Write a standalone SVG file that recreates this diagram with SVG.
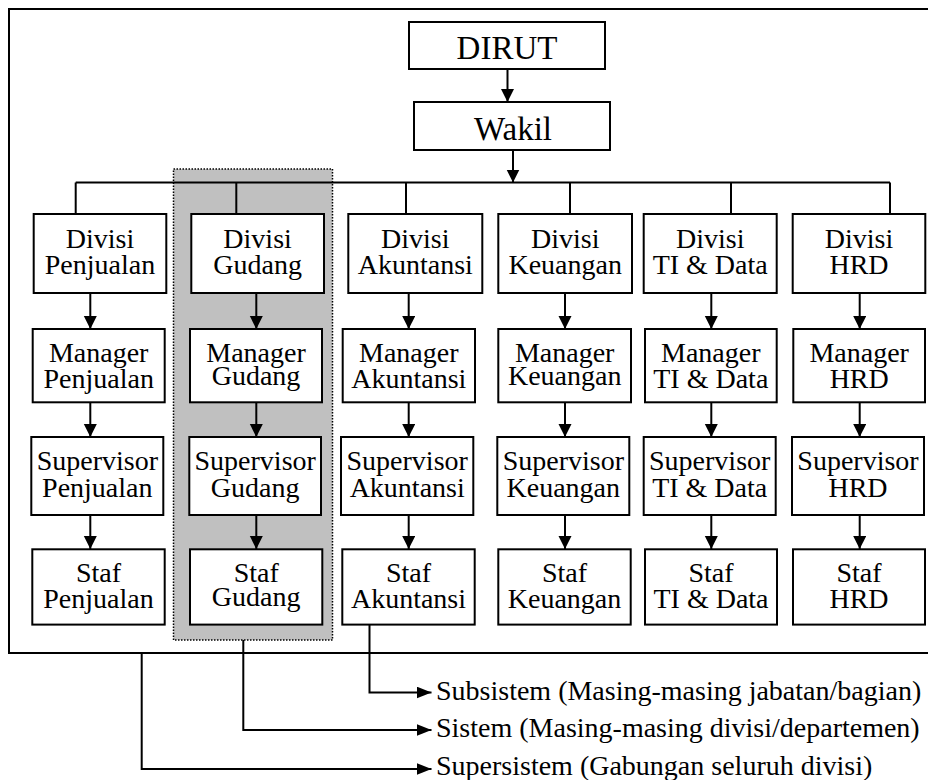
<svg xmlns="http://www.w3.org/2000/svg" width="928" height="780" viewBox="0 0 928 780" font-family="Liberation Serif">
  <style>
    .box { fill: #ffffff; stroke: #000000; stroke-width: 2; }
    .line { fill: none; stroke: #000000; stroke-width: 2; }
    .arrow { fill: none; stroke: #000000; stroke-width: 2; marker-end: url(#head); }
    .small { fill: none; stroke: #000000; stroke-width: 2; marker-end: url(#headSmall); }
    text { fill: #000000; }
    .nm { font-size: 28px; text-anchor: middle; }
    .top { font-size: 33px; text-anchor: middle; }
    .legend { font-size: 28px; }
  </style>
  <defs>
    <marker id="head" markerUnits="userSpaceOnUse" markerWidth="14" markerHeight="14" refX="13" refY="6.5" orient="auto">
      <path d="M0,0 L13,6.5 L0,13 Z" fill="#000000"/>
    </marker>
    <marker id="headSmall" markerUnits="userSpaceOnUse" markerWidth="16" markerHeight="14" refX="15" refY="6" orient="auto">
      <path d="M0,0 L15,6 L0,12 Z" fill="#000000"/>
    </marker>
  </defs>

  <!-- outer frame: whole organisation (open on the right) -->
  <path class="line" d="M940,9 H9 V653 H940"/>

  <!-- shaded band marking one division -->
  <rect x="173.5" y="169" width="159" height="471" fill="#c0c0c0" stroke="#000000" stroke-width="1.5" stroke-dasharray="1.5 1.5"/>

  <g id="connectors">
    <!-- top of the hierarchy -->
    <line class="arrow" x1="507.5" y1="69" x2="507.5" y2="102"/>
    <line class="arrow" x1="513" y1="150" x2="513" y2="182.5"/>
    <!-- bus to divisions -->
    <line class="line" x1="75.7" y1="182.5" x2="890" y2="182.5"/>
    <line class="line" x1="75.7" y1="182.5" x2="75.7" y2="214"/>
    <line class="line" x1="236.3" y1="182.5" x2="236.3" y2="214"/>
    <line class="line" x1="406" y1="182.5" x2="406" y2="214"/>
    <line class="line" x1="570" y1="182.5" x2="570" y2="214"/>
    <line class="line" x1="731" y1="182.5" x2="731" y2="214"/>
    <line class="line" x1="890" y1="182.5" x2="890" y2="214"/>
    <!-- chains inside each division -->
    <g id="chain-penjualan">
      <line class="arrow" x1="90.3" y1="293" x2="90.3" y2="329"/>
      <line class="arrow" x1="90.3" y1="402" x2="90.3" y2="437"/>
      <line class="arrow" x1="90.3" y1="515" x2="90.3" y2="549"/>
    </g>
    <g id="chain-gudang">
      <line class="arrow" x1="256.3" y1="293" x2="256.3" y2="329"/>
      <line class="arrow" x1="256.3" y1="402" x2="256.3" y2="437"/>
      <line class="arrow" x1="256.3" y1="515" x2="256.3" y2="549"/>
    </g>
    <g id="chain-akuntansi">
      <line class="arrow" x1="408.7" y1="293" x2="408.7" y2="329"/>
      <line class="arrow" x1="408.7" y1="402" x2="408.7" y2="437"/>
      <line class="arrow" x1="408.7" y1="515" x2="408.7" y2="549"/>
    </g>
    <g id="chain-keuangan">
      <line class="arrow" x1="565" y1="293" x2="565" y2="329"/>
      <line class="arrow" x1="565" y1="402" x2="565" y2="437"/>
      <line class="arrow" x1="565" y1="515" x2="565" y2="549"/>
    </g>
    <g id="chain-ti">
      <line class="arrow" x1="711.3" y1="293" x2="711.3" y2="329"/>
      <line class="arrow" x1="711.3" y1="402" x2="711.3" y2="437"/>
      <line class="arrow" x1="711.3" y1="515" x2="711.3" y2="549"/>
    </g>
    <g id="chain-hrd">
      <line class="arrow" x1="859.7" y1="293" x2="859.7" y2="329"/>
      <line class="arrow" x1="859.7" y1="402" x2="859.7" y2="437"/>
      <line class="arrow" x1="859.7" y1="515" x2="859.7" y2="549"/>
    </g>
    <!-- legend leaders -->
    <path class="small" d="M369.5,625 V692.5 H431.5"/>
    <path class="small" d="M243.3,640 V730 H431.5"/>
    <path class="small" d="M141.7,653 V769 H431.5"/>
  </g>

  <g id="dirut">
    <rect class="box" x="409" y="22" width="196" height="47"/>
    <text class="top" font-family="Liberation Serif" x="507" y="59">DIRUT</text>
  </g>
  <g id="wakil">
    <rect class="box" x="414" y="102" width="196" height="48"/>
    <text class="top" font-family="Liberation Serif" x="513" y="139.5">Wakil</text>
  </g>

  <!-- Penjualan -->
  <g id="divisi-penjualan">
    <rect class="box" x="33.7" y="214" width="132.6" height="79"/>
    <text class="nm" font-family="Liberation Serif" x="100" y="247.5">Divisi<tspan x="100" dy="26">Penjualan</tspan></text>
  </g>
  <g id="manager-penjualan">
    <rect class="box" x="32.7" y="329" width="132" height="73.3"/>
    <text class="nm" font-family="Liberation Serif" x="98.7" y="362">Manager<tspan x="98.7" dy="26">Penjualan</tspan></text>
  </g>
  <g id="supervisor-penjualan">
    <rect class="box" x="31.3" y="437" width="132" height="78"/>
    <text class="nm" font-family="Liberation Serif" x="97.3" y="470">Supervisor<tspan x="97.3" dy="26.5">Penjualan</tspan></text>
  </g>
  <g id="staf-penjualan">
    <rect class="box" x="32.3" y="549.3" width="132.4" height="75.3"/>
    <text class="nm" font-family="Liberation Serif" x="98.5" y="582.3">Staf<tspan x="98.5" dy="26">Penjualan</tspan></text>
  </g>

  <!-- Gudang -->
  <g id="divisi-gudang">
    <rect class="box" x="191.3" y="214" width="132.7" height="79"/>
    <text class="nm" font-family="Liberation Serif" x="257.6" y="247.5">Divisi<tspan x="257.6" dy="26">Gudang</tspan></text>
  </g>
  <g id="manager-gudang">
    <rect class="box" x="190" y="329" width="132" height="73.3"/>
    <text class="nm" font-family="Liberation Serif" x="256" y="361.5">Manager<tspan x="256" dy="23.5">Gudang</tspan></text>
  </g>
  <g id="supervisor-gudang">
    <rect class="box" x="189.3" y="437" width="131.7" height="78"/>
    <text class="nm" font-family="Liberation Serif" x="255.2" y="470">Supervisor<tspan x="255.2" dy="26.5">Gudang</tspan></text>
  </g>
  <g id="staf-gudang">
    <rect class="box" x="190" y="549.3" width="132.3" height="75.3"/>
    <text class="nm" font-family="Liberation Serif" x="256.2" y="581.5">Staf<tspan x="256.2" dy="24">Gudang</tspan></text>
  </g>

  <!-- Akuntansi -->
  <g id="divisi-akuntansi">
    <rect class="box" x="348.3" y="214" width="134" height="79"/>
    <text class="nm" font-family="Liberation Serif" x="415.3" y="247.5">Divisi<tspan x="415.3" dy="26">Akuntansi</tspan></text>
  </g>
  <g id="manager-akuntansi">
    <rect class="box" x="342.7" y="329" width="132.3" height="73.3"/>
    <text class="nm" font-family="Liberation Serif" x="408.8" y="362">Manager<tspan x="408.8" dy="26">Akuntansi</tspan></text>
  </g>
  <g id="supervisor-akuntansi">
    <rect class="box" x="341" y="437" width="132.3" height="78"/>
    <text class="nm" font-family="Liberation Serif" x="407.2" y="470">Supervisor<tspan x="407.2" dy="26.5">Akuntansi</tspan></text>
  </g>
  <g id="staf-akuntansi">
    <rect class="box" x="342.3" y="549.3" width="132.4" height="75.3"/>
    <text class="nm" font-family="Liberation Serif" x="408.5" y="582.3">Staf<tspan x="408.5" dy="26">Akuntansi</tspan></text>
  </g>

  <!-- Keuangan -->
  <g id="divisi-keuangan">
    <rect class="box" x="498.3" y="214" width="133.7" height="79"/>
    <text class="nm" font-family="Liberation Serif" x="565.2" y="247.5">Divisi<tspan x="565.2" dy="26">Keuangan</tspan></text>
  </g>
  <g id="manager-keuangan">
    <rect class="box" x="498.3" y="329" width="132.7" height="73.3"/>
    <text class="nm" font-family="Liberation Serif" x="564.7" y="361.5">Manager<tspan x="564.7" dy="23.5">Keuangan</tspan></text>
  </g>
  <g id="supervisor-keuangan">
    <rect class="box" x="497.3" y="437" width="132" height="78"/>
    <text class="nm" font-family="Liberation Serif" x="563.3" y="470">Supervisor<tspan x="563.3" dy="26.5">Keuangan</tspan></text>
  </g>
  <g id="staf-keuangan">
    <rect class="box" x="498.3" y="549.3" width="132.4" height="75.3"/>
    <text class="nm" font-family="Liberation Serif" x="564.5" y="582.3">Staf<tspan x="564.5" dy="26">Keuangan</tspan></text>
  </g>

  <!-- TI & Data -->
  <g id="divisi-ti">
    <rect class="box" x="643.7" y="214" width="133" height="79"/>
    <text class="nm" font-family="Liberation Serif" x="710.2" y="247.5">Divisi<tspan x="710.2" dy="26">TI &amp; Data</tspan></text>
  </g>
  <g id="manager-ti">
    <rect class="box" x="645" y="329" width="131.7" height="73.3"/>
    <text class="nm" font-family="Liberation Serif" x="710.8" y="362">Manager<tspan x="710.8" dy="26">TI &amp; Data</tspan></text>
  </g>
  <g id="supervisor-ti">
    <rect class="box" x="643.7" y="437" width="132" height="78"/>
    <text class="nm" font-family="Liberation Serif" x="709.7" y="470">Supervisor<tspan x="709.7" dy="26.5">TI &amp; Data</tspan></text>
  </g>
  <g id="staf-ti">
    <rect class="box" x="645" y="549.3" width="132" height="75.3"/>
    <text class="nm" font-family="Liberation Serif" x="711" y="582.3">Staf<tspan x="711" dy="26">TI &amp; Data</tspan></text>
  </g>

  <!-- HRD -->
  <g id="divisi-hrd">
    <rect class="box" x="792.7" y="214" width="132.6" height="79"/>
    <text class="nm" font-family="Liberation Serif" x="859" y="247.5">Divisi<tspan x="859" dy="26">HRD</tspan></text>
  </g>
  <g id="manager-hrd">
    <rect class="box" x="793.3" y="329" width="131.7" height="73.3"/>
    <text class="nm" font-family="Liberation Serif" x="859.2" y="362">Manager<tspan x="859.2" dy="26">HRD</tspan></text>
  </g>
  <g id="supervisor-hrd">
    <rect class="box" x="792" y="437" width="132" height="78"/>
    <text class="nm" font-family="Liberation Serif" x="858" y="470">Supervisor<tspan x="858" dy="26.5">HRD</tspan></text>
  </g>
  <g id="staf-hrd">
    <rect class="box" x="793" y="549.3" width="132" height="75.3"/>
    <text class="nm" font-family="Liberation Serif" x="859" y="582.3">Staf<tspan x="859" dy="26">HRD</tspan></text>
  </g>

  <!-- legend -->
  <g id="legend">
    <text class="legend" font-family="Liberation Serif" x="436" y="700">Subsistem (Masing-masing jabatan/bagian)</text>
    <text class="legend" font-family="Liberation Serif" x="436" y="737">Sistem (Masing-masing divisi/departemen)</text>
    <text class="legend" font-family="Liberation Serif" x="436" y="775">Supersistem (Gabungan seluruh divisi)</text>
  </g>
</svg>
